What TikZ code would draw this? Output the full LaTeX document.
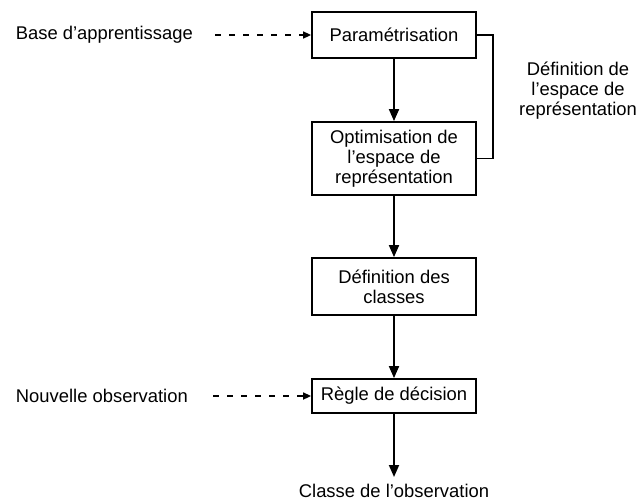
\documentclass[tikz,border=0pt]{standalone}
\usepackage{fontspec}
\setmainfont{Liberation Sans}
\usetikzlibrary{arrows.meta}
\begin{document}
\begin{tikzpicture}[x=1pt,y=-1pt,
  font=\fontsize{18.4pt}{20pt}\selectfont,
  stage/.style={draw,line width=1.8pt,minimum width=164pt,align=center,inner sep=2pt},
  flow/.style={line width=1.8pt,-{Triangle[length=12pt,width=10pt]}},
  feed/.style={line width=1.6pt,dash pattern=on 6pt off 8pt,-{Triangle[length=8pt,width=7pt]}},
  link/.style={line width=1.8pt},
  lbl/.style={inner sep=0pt,align=center}]
\useasboundingbox (0,0) rectangle (636,501);

% processing chain
\node[stage,minimum height=46pt] (param) at (394,35) {Paramétrisation};
\node[stage,minimum height=73pt] (optim) at (394,158.5) {Optimisation de\\l’espace de\\représentation};
\node[stage,minimum height=57pt] (classes) at (394,286.5) {Définition des\\classes};
\node[stage,minimum height=34pt] (regle) at (394,396) {Règle de décision};

% inputs and output
\node[lbl,anchor=east] (base) at (193,35) {Base d’apprentissage};
\node[lbl,anchor=east] (nouv) at (188,396) {Nouvelle observation};
\node[lbl,anchor=base] (sortie) at (394,497) {Classe de l’observation};
\coordinate (sortiehaut) at (394,477);
\node[lbl] (defesp) at (578,91) {Définition de\\l’espace de\\représentation};

% feedback loop on the right
\coordinate (boucle) at (493,35);

\draw[flow] (param) -- (optim);
\draw[flow] (optim) -- (classes);
\draw[flow] (classes) -- (regle);
\draw[flow] (regle) -- (sortiehaut);
\draw[feed] (base.east) ++(22,0) coordinate (b0) (b0) -- (param.west);
\draw[feed] (nouv.east) ++(25,0) coordinate (n0) (n0) -- (regle.west);
\draw[link] (param.east) -- (boucle) |- (optim.east);
\end{tikzpicture}
\end{document}
